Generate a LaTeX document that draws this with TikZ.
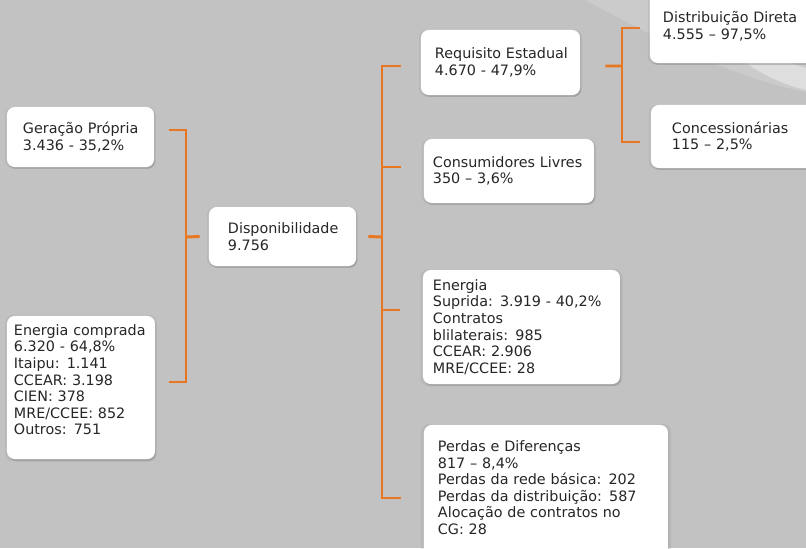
\documentclass[tikz,border=0pt]{standalone}
\usepackage{fontspec}
\setmainfont{DejaVu Sans}
\usetikzlibrary{calc,shadows}
\definecolor{fundo}{HTML}{C2C2C2}
\definecolor{claro}{HTML}{CBCBCB}
\definecolor{brilho}{HTML}{DEDEDE}
\definecolor{laranja}{HTML}{E87722}
\definecolor{texto}{HTML}{262626}
\tikzset{
	caixa/.style={fill=white, rounded corners=5.5pt, align=left, text=texto, inner xsep=0pt, inner ysep=2pt,
		font=\fontsize{10.2}{11.8}\selectfont,
		drop shadow={opacity=0.15, shadow xshift=0pt, shadow yshift=-0.5pt, shadow scale=1.025},
		drop shadow={opacity=0.35, shadow xshift=0.8pt, shadow yshift=-1.4pt}},
	elo/.style={draw=laranja, line width=2.1pt}
}

\begin{document}
\begin{tikzpicture}[x=0.025cm, y=-0.025cm]
	% fundo
	\fill[fundo] (0,0) rectangle (806,548);
	\useasboundingbox (0,0) rectangle (806,548);
	\fill[claro] (585,0) .. controls (670,45) and (735,78) .. (806,92) -- (806,0) -- cycle;
	\fill[brilho] (700,0) .. controls (740,40) and (770,58) .. (806,68) -- (806,90) .. controls (760,80) and (715,45) .. (680,0) -- cycle;

	\node[caixa, text width=3.675cm, minimum height=1.5cm] (gerac) at (80.5,137) {\leftskip=0.4cm Geração Própria\\3.436 - 35,2\%\par};
	\node[caixa, text width=3.7cm, minimum height=3.575cm] (comprada) at (81,387.5) {\leftskip=0.175cm Energia comprada\\6.320 - 64,8\%\\Itaipu: 1.141\\CCEAR: 3.198\\CIEN: 378\\MRE/CCEE: 852\\Outros: 751\par\vspace*{11pt}};
	\node[caixa, text width=3.675cm, minimum height=1.475cm] (dispon) at (282.5,236.5) {\leftskip=0.475cm Disponibilidade\\9.756\par};
	\node[caixa, text width=3.975cm, minimum height=1.625cm] (requisito) at (500.5,62.5) {\leftskip=0.35cm Requisito Estadual\\4.670 - 47,9\%\par};
	\node[caixa, text width=4.25cm, minimum height=1.6cm] (consum) at (509,171) {\leftskip=0.225cm Consumidores Livres\\350 – 3,6\%\par};
	\node[caixa, text width=4.925cm, minimum height=2.85cm] (suprida) at (521.5,327) {\leftskip=0.25cm Energia\\Suprida: 3.919 - 40,2\%\\Contratos\\blilaterais: 985\\CCEAR: 2.906\\MRE/CCEE: 28\par};
	\node[caixa, text width=6.1cm, minimum height=3.375cm] (perdas) at (546,492.5) {\leftskip=0.35cm Perdas e Diferenças\\817 – 8,4\%\\Perdas da rede básica: 202\\Perdas da distribuição: 587\\Alocação de contratos no\\CG: 28\par\vspace*{7pt}};
	\node[caixa, text width=4.25cm, minimum height=1.825cm] (distrib) at (735,26.5) {\leftskip=0.325cm Distribuição Direta\\4.555 – 97,5\%\par};
	\node[caixa, text width=4.25cm, minimum height=1.575cm] (concess) at (736,136.5) {\leftskip=0.525cm Concessionárias\\115 – 2,5\%\par};

	% chaves
	\coordinate (j1) at (186,237);
	\draw[elo] ($(gerac.east)+(15,-7)$) -| (j1) |- ($(comprada.east)+(14,-5.5)$);
	\draw[elo] (j1) -- ($(dispon.west)+(-9,0)$);

	\coordinate (j2) at (382,237);
	\draw[elo] ($(dispon.east)+(12,0)$) -- (j2);
	\draw[elo] ($(requisito.west)+(-20,3.5)$) -| (j2) |- ($(perdas.west)+(-23,5.5)$);
	\foreach \n/\dy in {consum/-4, suprida/-17} \draw[elo] ($(\n.west)+(-23,\dy)$) -- ++(-19,0);

	\coordinate (j3) at (622,66);
	\draw[elo] ($(requisito.east)+(25,3.5)$) -- (j3);
	\draw[elo] ($(distrib.west)+(-10,1.5)$) -| (j3) |- ($(concess.west)+(-11,5.5)$);
\end{tikzpicture}
\end{document}
